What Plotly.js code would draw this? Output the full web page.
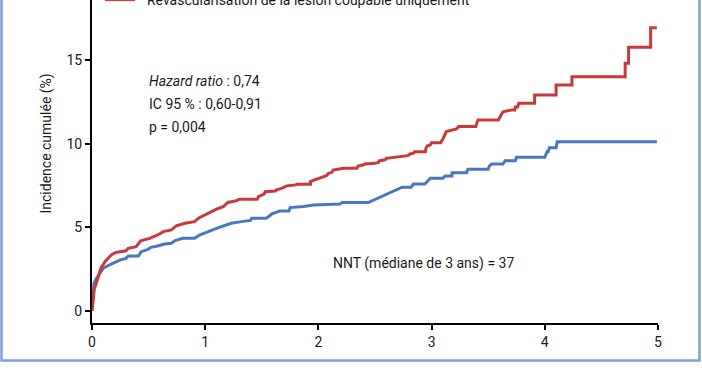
<!DOCTYPE html>
<html>
<head>
<meta charset="utf-8">
<script src="https://cdn.plot.ly/plotly-3.0.1.min.js"></script>
<style>html,body{margin:0;padding:0;background:#fff;}#chart{width:702px;height:370px;}</style>
</head>
<body>
<div id="chart"></div>
<script>
// Years of follow-up / cumulative incidence (%) — curve vertices
const redName = "Revascularisation de la lésion coupable uniquement";
const blueName = "Revascularisation complète";

const redX = [0,0.02,0.04,0.08,0.12,0.17,0.21,0.30,0.32,0.39,0.43,0.51,0.58,0.63,0.70,0.745,0.82,0.905,0.94,1.02,1.10,1.16,1.20,1.275,1.30,1.46,1.47,1.52,1.53,1.62,1.63,1.675,1.70,1.72,1.80,1.81,1.93,1.93,1.96,2.00,2.02,2.07,2.09,2.12,2.13,2.20,2.22,2.34,2.35,2.40,2.41,2.50,2.53,2.54,2.59,2.60,2.67,2.72,2.79,2.81,2.84,2.85,2.945,2.95,2.96,2.99,3.00,3.08,3.10,3.13,3.18,3.22,3.24,3.39,3.40,3.41,3.59,3.61,3.63,3.71,3.735,3.74,3.76,3.77,3.91,3.91,4.10,4.10,4.24,4.24,4.71,4.71,4.74,4.74,4.935,4.935,4.99];
const redY = [0,1.3,1.7,2.6,3.0,3.35,3.5,3.6,3.75,3.85,4.2,4.35,4.55,4.75,4.85,5.1,5.25,5.35,5.55,5.85,6.1,6.25,6.5,6.6,6.69,6.69,6.85,7.0,7.14,7.18,7.25,7.34,7.42,7.49,7.55,7.59,7.59,7.75,7.84,7.95,8.0,8.1,8.24,8.3,8.44,8.5,8.54,8.54,8.68,8.75,8.8,8.84,8.9,9.0,9.05,9.14,9.2,9.24,9.3,9.4,9.45,9.54,9.54,9.75,9.88,9.95,10.08,10.08,10.3,10.74,10.84,10.9,11.04,11.04,11.25,11.44,11.44,11.7,11.93,12.04,12.04,12.22,12.22,12.44,12.44,12.93,12.93,13.53,13.53,14.03,14.03,14.83,14.83,15.79,15.79,16.96,16.96];

const blueX = [0,0.01,0.018,0.04,0.10,0.17,0.245,0.30,0.32,0.41,0.435,0.495,0.52,0.58,0.64,0.70,0.73,0.80,0.905,0.95,1.02,1.10,1.16,1.23,1.32,1.40,1.41,1.54,1.59,1.66,1.74,1.75,1.87,1.955,2.19,2.21,2.44,2.72,2.74,2.82,2.84,2.94,2.99,3.10,3.12,3.18,3.18,3.31,3.32,3.50,3.51,3.53,3.63,3.65,3.74,3.75,4.00,4.02,4.03,4.04,4.10,4.11,4.99];
const blueY = [0,1.0,1.66,1.96,2.56,2.81,3.05,3.15,3.29,3.29,3.55,3.69,3.81,3.89,4.01,4.05,4.2,4.35,4.35,4.55,4.75,4.95,5.09,5.25,5.35,5.42,5.55,5.55,5.81,5.99,5.99,6.19,6.25,6.35,6.41,6.49,6.49,7.35,7.41,7.41,7.6,7.6,7.95,7.95,8.08,8.08,8.28,8.28,8.48,8.48,8.68,8.8,8.8,9.0,9.0,9.2,9.2,9.54,9.54,9.78,9.78,10.14,10.14];

const xTicks = [0,1,2,3,4,5];
const yTicks = [0,5,10,15];
const statsLines = ["<i>Hazard ratio</i> : 0,74", "IC 95 % : 0,60-0,91", "p = 0,004"];
const statsY = [13.77, 12.4, 11.0];
const nntText = "NNT (médiane de 3 ans) = 37";
const yTitle = "Incidence cumulée (%)";

const FONT = "Roboto, 'Noto Sans', sans-serif";
const RED = "#c9383a", BLUE = "#4a76bf";

const traces = [
  {x: blueX, y: blueY, type: "scatter", mode: "lines", name: blueName, showlegend: false,
   line: {color: BLUE, width: 3, shape: "linear"}, hoverinfo: "skip"},
  {x: redX, y: redY, type: "scatter", mode: "lines", name: "\u00a0\u00a0" + redName,
   line: {color: RED, width: 3, shape: "linear"}, hoverinfo: "skip"}
];

const annotations = statsLines.map((t, i) => ({
  x: 0.486, y: statsY[i], xref: "x", yref: "y", text: t, showarrow: false,
  xanchor: "left", yanchor: "middle", font: {family: FONT, size: 14, color: "#1a1a1a"}
}));
annotations.push({x: 2.11, y: 2.87, xref: "x", yref: "y", text: nntText, showarrow: false,
  xanchor: "left", yanchor: "middle", font: {family: FONT, size: 14, color: "#1a1a1a"}});
annotations.push({x: (46 - 92) / 566, y: 1 - 143.5 / 323, xref: "paper", yref: "paper",
  text: yTitle, textangle: -90, showarrow: false, xanchor: "center", yanchor: "middle",
  font: {family: FONT, size: 14, color: "#1a1a1a"}});

const layout = {
  width: 702, height: 370,
  margin: {l: 92, r: 44, t: 0, b: 47, autoexpand: false},
  paper_bgcolor: "#ffffff", plot_bgcolor: "#ffffff",
  font: {family: FONT, size: 14, color: "#1a1a1a"},
  showlegend: true,
  legend: {x: (100 - 92) / 566, y: 1.0, xanchor: "left", yanchor: "middle",
           bgcolor: "rgba(0,0,0,0)", font: {family: FONT, size: 14, color: "#1a1a1a"}},
  xaxis: {range: [0, 5], tickvals: xTicks, ticktext: xTicks.map(String), showgrid: false, zeroline: false,
          showline: true, linecolor: "#000", linewidth: 2, ticks: "outside", ticklen: 5, tickwidth: 2,
          tickcolor: "#000", tickfont: {family: FONT, size: 14, color: "#1a1a1a"}, fixedrange: true},
  yaxis: {range: [-0.72, 18.62], tickvals: yTicks, ticktext: yTicks.map(String), showgrid: false, zeroline: false,
          showline: true, linecolor: "#000", linewidth: 2, ticks: "outside", ticklen: 5, tickwidth: 2,
          tickcolor: "#000", tickfont: {family: FONT, size: 14, color: "#1a1a1a"}, fixedrange: true},
  annotations: annotations,
  shapes: [{type: "rect", xref: "paper", yref: "paper",
            x0: (1.5 - 92) / 566, x1: (699.5 - 92) / 566, y0: 1 - 360.5 / 323, y1: 1.2,
            line: {color: "#7ba3d9", width: 2.5}, fillcolor: "rgba(0,0,0,0)", layer: "below"}]
};

Plotly.newPlot("chart", traces, layout, {staticPlot: true, displayModeBar: false});
</script>
</body>
</html>
